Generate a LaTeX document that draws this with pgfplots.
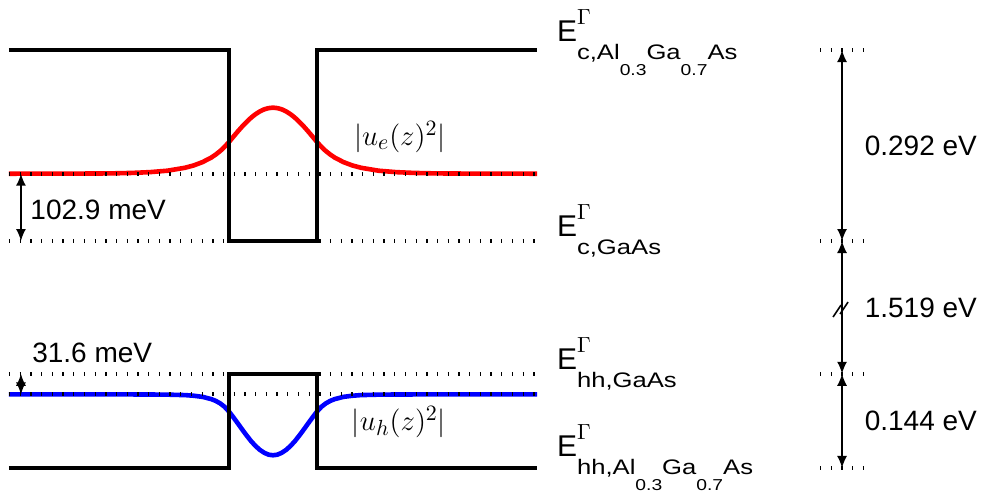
\documentclass[border=0pt]{standalone}
\usepackage[no-math]{fontspec}
\setmainfont{Liberation Sans}
\usepackage{graphicx}
\usepackage{pgfplots}
\pgfplotsset{compat=1.18}
\usetikzlibrary{arrows.meta}

% second-level subscript (alloy fractions)
\newcommand{\sst}[1]{\raisebox{-8.2pt}{\fontsize{7.9}{9}\selectfont #1}}
% band-edge label E^Gamma_{...}
\newcommand{\band}[1]{\fontsize{15}{18}\selectfont E\rlap{\raisebox{8.5pt}{\fontsize{10.5}{12}\selectfont$\Gamma$}}\raisebox{-8.75pt}{\scalebox{1.22}[1]{\fontsize{10.5}{12}\selectfont #1}}}

\tikzset{
  lvl/.style={black, line width=2pt, dash pattern=on 0.65pt off 4.7pt},
  band/.style={black, line width=2pt, line join=miter},
  dim/.style={black, line width=0.8pt, {Latex[length=6pt,width=5pt]}-{Latex[length=6pt,width=5pt]}},
  lab/.style={inner sep=0pt, font=\fontsize{14}{16.8}\selectfont},
}

\begin{document}
\begin{tikzpicture}
\useasboundingbox (0,0) rectangle (490.5pt,250pt);
\begin{axis}[
  at={(0,0)}, anchor=south west,
  scale only axis, width=490.5pt, height=250pt,
  xmin=-31.02, xmax=80.45, ymin=-0.396, ymax=0.3685,
  hide axis, clip=false,
]
% electron envelope |u_e|^2 (level at 102.9 meV)
\addplot[red, line width=2.3pt, line join=round] coordinates {
(-30,0.1029) (-25,0.1030) (-20,0.1032) (-18,0.1035) (-16,0.1041) (-14,0.1053)
(-12,0.1075) (-10,0.1120) (-9,0.1156) (-8,0.1207) (-7,0.1277) (-6.5,0.1323)
(-6,0.1376) (-5.5,0.1439) (-5,0.1514) (-4.5,0.1595) (-4,0.1675) (-3.5,0.1751)
(-3,0.1821) (-2.5,0.1884) (-2,0.1938) (-1.5,0.1981) (-1,0.2013) (-0.5,0.2032)
(0,0.2039)
(0.5,0.2032) (1,0.2013) (1.5,0.1981) (2,0.1938) (2.5,0.1884) (3,0.1821)
(3.5,0.1751) (4,0.1675) (4.5,0.1595) (5,0.1514) (5.5,0.1439) (6,0.1376)
(6.5,0.1323) (7,0.1277) (8,0.1207) (9,0.1156) (10,0.1120) (12,0.1075)
(14,0.1053) (16,0.1041) (18,0.1035) (20,0.1032) (25,0.1030) (30,0.1029)
};
% heavy-hole envelope |u_h|^2 (level 31.6 meV below the GaAs valence edge)
\addplot[blue, line width=2.3pt, line join=round] coordinates {
(-30,-0.2346) (-20,-0.2346) (-16,-0.2346) (-14,-0.2347) (-12,-0.2349)
(-10,-0.2356) (-9,-0.2366) (-8,-0.2383) (-7,-0.2418) (-6.5,-0.2445)
(-6,-0.2483) (-5.5,-0.2535) (-5,-0.2608) (-4.5,-0.2696) (-4,-0.2788)
(-3.5,-0.2882) (-3,-0.2973) (-2.5,-0.3058) (-2,-0.3132) (-1.5,-0.3193)
(-1,-0.3238) (-0.5,-0.3267) (0,-0.3276)
(0.5,-0.3267) (1,-0.3238) (1.5,-0.3193) (2,-0.3132) (2.5,-0.3058)
(3,-0.2973) (3.5,-0.2882) (4,-0.2788) (4.5,-0.2696) (5,-0.2608)
(5.5,-0.2535) (6,-0.2483) (6.5,-0.2445) (7,-0.2418) (8,-0.2383)
(9,-0.2366) (10,-0.2356) (12,-0.2349) (14,-0.2347) (16,-0.2346)
(20,-0.2346) (30,-0.2346)
};
% conduction and valence band edges of the quantum well
\addplot[band] coordinates {(-30,0.292) (-5,0.292) (-5,0) (5,0) (5,0.292) (30,0.292)};
\addplot[band] coordinates {(-30,-0.347) (-5,-0.347) (-5,-0.203) (5,-0.203) (5,-0.347) (30,-0.347)};

% reference levels
\addplot[lvl] coordinates {(-30,0.1029) (30,0.1029)};
\addplot[lvl] coordinates {(-30,0) (30,0)};
\addplot[lvl] coordinates {(-30,-0.203) (30,-0.203)};
\addplot[lvl] coordinates {(-30,-0.2346) (30,-0.2346)};
\addplot[lvl] coordinates {(62.16,0.292) (67.27,0.292)};
\addplot[lvl] coordinates {(62.16,0) (67.27,0)};
\addplot[lvl] coordinates {(62.16,-0.203) (67.27,-0.203)};
\addplot[lvl] coordinates {(62.16,-0.347) (67.27,-0.347)};

% confinement energies
\draw[dim] (axis cs:-28.64,0.1029) -- (axis cs:-28.64,0);
\draw[dim] (axis cs:-28.64,-0.203) -- (axis cs:-28.64,-0.2346);
\node[lab, anchor=west] at (axis cs:-27.6,0.0474) {102.9 meV};
\node[lab, anchor=west] at (axis cs:-27.4,-0.1713) {31.6 meV};

% band offsets and gap
\draw[dim] (axis cs:64.66,0.292) -- (axis cs:64.66,0);
\draw[dim] (axis cs:64.66,0) -- (axis cs:64.66,-0.203);
\draw[dim] (axis cs:64.66,-0.203) -- (axis cs:64.66,-0.347);
\draw[line width=0.8pt] ([shift={(-4.5pt,-4pt)}]axis cs:64.66,-0.104) -- ++(4pt,6pt);
\draw[line width=0.8pt] ([shift={(-1pt,-2.5pt)}]axis cs:64.66,-0.104) -- ++(4pt,6pt);
\node[lab, anchor=west] at (axis cs:67.2,0.146) {0.292 eV};
\node[lab, anchor=west] at (axis cs:67.2,-0.1015) {1.519 eV};
\node[lab, anchor=west] at (axis cs:67.2,-0.275) {0.144 eV};

% band-edge labels
\node[inner sep=0pt, anchor=base west] at (axis cs:32.23,0.3047) {\band{c,Al\sst{0.3}Ga\sst{0.7}As}};
\node[inner sep=0pt, anchor=base west] at (axis cs:32.23,0.0066) {\band{c,GaAs}};
\node[inner sep=0pt, anchor=base west] at (axis cs:32.23,-0.1972) {\band{hh,GaAs}};
\node[inner sep=0pt, anchor=base west] at (axis cs:32.23,-0.3298) {\band{hh,Al\sst{0.3}Ga\sst{0.7}As}};

% envelope labels
\node[inner sep=0pt, anchor=base west, font=\fontsize{15}{18}\selectfont] at (axis cs:9.16,0.146) {$|u_e(z)^2|$};
\node[inner sep=0pt, anchor=base west, font=\fontsize{15}{18}\selectfont] at (axis cs:8.93,-0.2898) {$|u_h(z)^2|$};
\end{axis}
\end{tikzpicture}
\end{document}
